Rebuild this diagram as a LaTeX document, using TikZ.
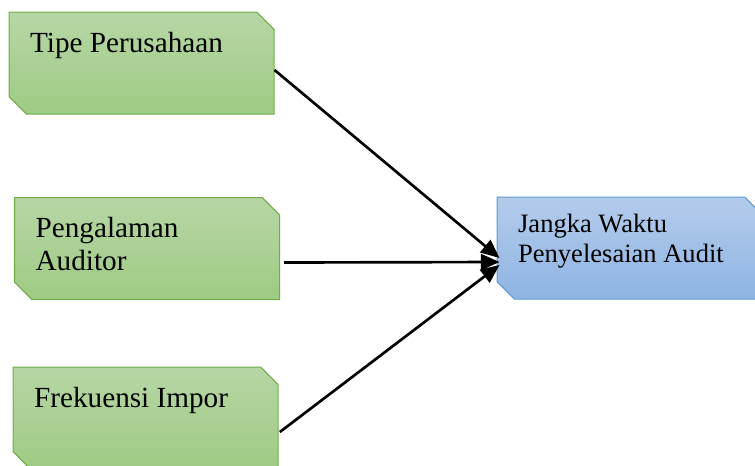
\documentclass[tikz,border=0pt]{standalone}
\usepackage{fontspec}
\setmainfont{Liberation Serif}
\usetikzlibrary{shapes.misc,arrows.meta}

\definecolor{gtop}{RGB}{183,214,166}
\definecolor{gbot}{RGB}{158,203,131}
\definecolor{gline}{RGB}{112,173,71}
\definecolor{btop}{RGB}{180,204,235}
\definecolor{bbot}{RGB}{142,180,227}
\definecolor{bline}{RGB}{91,155,213}

\newcommand{\gtext}[1]{\parbox[c][46.5pt][t]{167pt}{\raggedright #1}}
\newcommand{\btext}[1]{\parbox[c][51pt][t]{167pt}{\raggedright #1}}

\begin{document}
\begin{tikzpicture}[
    x=0.75pt, y=-0.75pt,
    box/.style={chamfered rectangle, chamfered rectangle corners={north east,south west}, chamfered rectangle xsep=6.5pt, chamfered rectangle ysep=6.5pt, line width=0.75pt, inner sep=0pt, minimum width=198.75pt, minimum height=76.5pt},
    gbox/.style={box, draw=gline, top color=gtop, bottom color=gbot, font=\fontsize{21.9}{24.75}\selectfont},
    bbox/.style={box, draw=bline, top color=btop, bottom color=bbot, font=\fontsize{19.9}{22.5}\selectfont},
    link/.style={-{Triangle[length=14pt,width=12pt]}, line width=2pt}
]
\useasboundingbox (0,0) rectangle (755,465);

% Independent variables
\node[gbox] (x1) at (141.5, 63) {\gtext{Tipe Perusahaan}};
\node[gbox] (x2) at (147, 248.5) {\gtext{Pengalaman\\Auditor}};
\node[gbox] (x3) at (145.5, 418) {\gtext{Frekuensi Impor}};

% Dependent variable
\node[bbox] (y) at (629.5, 248) {\btext{Jangka Waktu\\Penyelesaian Audit}};

% Arrows
\foreach \s/\dx/\dy/\ty in {x1/0/-5.25/-7.5, x2/3/-10.5/-10.5, x3/1/-10.5/-12.75} {
    \draw[link] ([xshift=\dx pt, yshift=\dy pt]\s.east) -- ([xshift=2.25pt, yshift=\ty pt]y.west);
}

\end{tikzpicture}
\end{document}
